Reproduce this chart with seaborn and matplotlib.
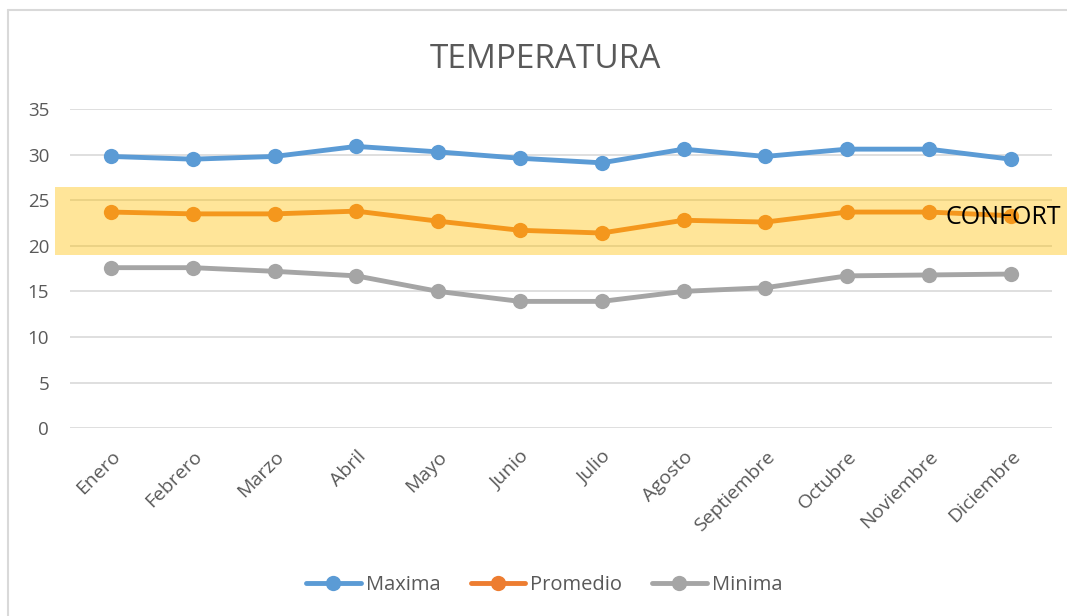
import matplotlib
matplotlib.use('Agg')
import matplotlib.pyplot as plt
import matplotlib.transforms as mtransforms
from matplotlib.patches import Rectangle
from matplotlib.lines import Line2D
import pandas as pd
import seaborn as sns

# datos
meses = ['Enero', 'Febrero', 'Marzo', 'Abril', 'Mayo', 'Junio', 'Julio',
         'Agosto', 'Septiembre', 'Octubre', 'Noviembre', 'Diciembre']
maxima = [29.8, 29.5, 29.8, 30.9, 30.3, 29.6, 29.1, 30.6, 29.8, 30.6, 30.6, 29.5]
promedio = [23.7, 23.5, 23.5, 23.8, 22.7, 21.7, 21.4, 22.8, 22.6, 23.7, 23.7, 23.3]
minima = [17.6, 17.6, 17.2, 16.7, 15.0, 13.9, 13.9, 15.0, 15.4, 16.7, 16.8, 16.9]
confort_bajo, confort_alto = 19.0, 26.4

series = ['Maxima', 'Promedio', 'Minima']
colores = {'Maxima': '#5B9BD5', 'Promedio': '#ED7D31', 'Minima': '#A5A5A5'}

df = pd.DataFrame({'Mes': meses * 3,
                   'x': list(range(12)) * 3,
                   'Temp': maxima + promedio + minima,
                   'Serie': [s for s in series for _ in meses]})

sns.set_style('white')
plt.rcParams['font.family'] = ['Open Sans', 'DejaVu Sans']

fig = plt.figure(figsize=(10.67, 6.16), dpi=100)
ax = fig.add_axes([0.0656, 0.305, 0.920, 0.518])

sns.lineplot(data=df, x='x', y='Temp', hue='Serie', palette=colores,
             marker='o', markersize=11, markeredgewidth=0, linewidth=3.5,
             legend=False, ax=ax, zorder=3)

ax.set_xlim(-0.5, 11.5)
ax.set_ylim(0, 35)
ax.set_yticks(range(0, 36, 5))
ax.set_xticks(range(12))
ax.set_xticklabels(meses, rotation=45, ha='right', rotation_mode='anchor')
ax.tick_params(axis='both', colors='#595959', length=0)
ax.tick_params(axis='y', labelsize=13.5, pad=15)
ax.tick_params(axis='x', labelsize=14, pad=14)
ax.grid(axis='y', color='#D9D9D9', linewidth=1.2)
ax.set_axisbelow(True)
ax.set_xlabel('')
ax.set_ylabel('')
sns.despine(ax=ax, left=True, bottom=True)

# banda de confort (semitransparente, encima de las lineas)
trans = mtransforms.blended_transform_factory(fig.transFigure, ax.transData)
ax.add_patch(Rectangle((55 / 1067, confort_bajo), 1.0, confort_alto - confort_bajo,
                       transform=trans, facecolor='#FFC000', alpha=0.4,
                       edgecolor='none', clip_on=False, zorder=5))
ax.text(10.2, 23.1, 'CONFORT', fontsize=18, color='black', va='center',
        ha='left', zorder=6, clip_on=False)

fig.suptitle('TEMPERATURA', x=0.511, y=0.93, fontsize=24, color='#595959')

handles = [Line2D([0], [0], color=colores[s], linewidth=3.5, marker='o',
                  markersize=11, markeredgewidth=0) for s in series]
fig.legend(handles, series, loc='center', bbox_to_anchor=(0.51, 0.05),
           ncol=3, frameon=False, fontsize=14.5, labelcolor='#595959',
           handlelength=2.7, handletextpad=0.25, columnspacing=1.5)

# marco del area del grafico
fig.add_artist(Line2D([8 / 1067, 8 / 1067], [0, 1 - 10 / 616],
                      transform=fig.transFigure, color='#D9D9D9', linewidth=1.5))
fig.add_artist(Line2D([8 / 1067, 1], [1 - 10 / 616, 1 - 10 / 616],
                      transform=fig.transFigure, color='#D9D9D9', linewidth=1.5))

plt.savefig('out.png', dpi=100)
